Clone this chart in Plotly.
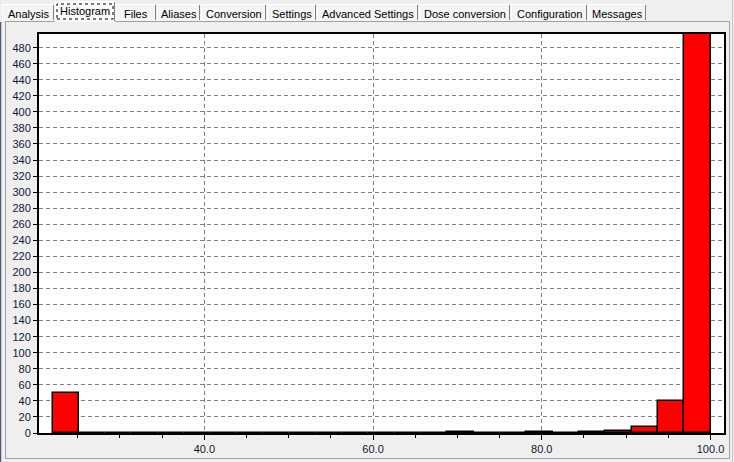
import plotly.graph_objects as go

# ---- data ----
bin_edges = [22.00, 25.12, 28.24, 31.36, 34.48, 37.60, 40.72, 43.84, 46.96, 50.08,
             53.20, 56.32, 59.44, 62.56, 65.68, 68.80, 71.92, 75.04, 78.16, 81.28,
             84.40, 87.52, 90.64, 93.76, 96.88, 100.00]
counts = [50, 0, 0, 0, 0, 0, 0, 0, 0, 0,
          0, 0, 0, 0, 0, 1, 0, 0, 1, 0,
          1, 3, 7, 40, 497]
x_tick_vals = [40, 60, 80, 100]
x_tick_text = ["40.0", "60.0", "80.0", "100.0"]
x_minor_vals = [25, 30, 35, 45, 50, 55, 65, 70, 75, 85, 90, 95]
y_tick_vals = list(range(0, 481, 20))
tab_labels = ["Analysis", "Histogram", "Files", "Aliases", "Conversion", "Settings",
              "Advanced Settings", "Dose conversion", "Configuration", "Messages"]
selected_tab = "Histogram"

# ---- layout geometry (pixels) ----
W, H = 734, 462
L, R, T, B = 39, 724, 34, 433
tab_x = [(2, 54), (55, 115), (116, 156), (157, 200), (201, 266), (267, 316),
         (317, 418), (419, 510), (511, 587), (588, 646)]

def px(x):
    return (x - L) / (R - L)

def py(y):
    return (B - y) / (B - T)

centers = [(a + b) / 2 for a, b in zip(bin_edges[:-1], bin_edges[1:])]
widths = [b - a for a, b in zip(bin_edges[:-1], bin_edges[1:])]

fig = go.Figure()
fig.add_trace(go.Bar(
    x=centers, y=counts, width=widths,
    marker=dict(color="#ff0000", line=dict(color="#000000", width=1.5)),
    hoverinfo="skip",
))

shapes = []
annotations = []
font_ui = "Liberation Sans, Arial, sans-serif"

# outer dark left strip
shapes.append(dict(type="line", xref="paper", yref="paper",
                   x0=px(0.5), x1=px(0.5), y0=py(22), y1=py(462),
                   line=dict(color="#4a5a70", width=1.5), layer="below"))
# tab panel border
shapes.append(dict(type="rect", xref="paper", yref="paper",
                   x0=px(5.5), x1=px(729.5), y0=py(21.5), y1=py(458.5),
                   line=dict(color="#a0a0a0", width=1), fillcolor="rgba(0,0,0,0)",
                   layer="below"))
shapes.append(dict(type="line", xref="paper", yref="paper",
                   x0=px(732.5), x1=px(732.5), y0=py(0), y1=py(462),
                   line=dict(color="#c8c8c8", width=1), layer="below"))

# tabs
for (x0, x1), lab in zip(tab_x, tab_labels):
    sel = lab == selected_tab
    top = 1 if sel else 4
    bot = 22 if sel else 21
    shapes.append(dict(type="rect", xref="paper", yref="paper",
                       x0=px(x0), x1=px(x1), y0=py(bot), y1=py(top),
                       line=dict(width=0), fillcolor="#f4f4f4" if not sel else "#f8f8f8",
                       layer="below"))
    shapes.append(dict(type="line", xref="paper", yref="paper",
                       x0=px(x0 + 0.5), x1=px(x0 + 0.5), y0=py(bot), y1=py(top),
                       line=dict(color="#ffffff", width=1), layer="below"))
    shapes.append(dict(type="line", xref="paper", yref="paper",
                       x0=px(x0), x1=px(x1), y0=py(top + 0.5), y1=py(top + 0.5),
                       line=dict(color="#ffffff", width=1), layer="below"))
    shapes.append(dict(type="line", xref="paper", yref="paper",
                       x0=px(x1 - 0.5), x1=px(x1 - 0.5), y0=py(bot - 1), y1=py(top + 1),
                       line=dict(color="#808080", width=1), layer="below"))
    annotations.append(dict(xref="paper", yref="paper",
                            x=px((x0 + x1) / 2), y=py(11.5 if sel else 13.5),
                            text=lab, showarrow=False, xanchor="center", yanchor="middle",
                            font=dict(family=font_ui, size=11, color="#000000")))
    if sel:
        shapes.append(dict(type="rect", xref="paper", yref="paper",
                           x0=px(x0 + 2), x1=px(x1 - 2), y0=py(19), y1=py(4),
                           line=dict(color="#000000", width=1, dash="dot"),
                           fillcolor="rgba(0,0,0,0)", layer="above"))

fig.update_layout(
    width=W, height=H,
    autosize=False,
    margin=dict(l=L, r=W - R, t=T, b=H - B, pad=0, autoexpand=False),
    paper_bgcolor="#efefef",
    plot_bgcolor="#ffffff",
    showlegend=False,
    bargap=0,
    shapes=shapes,
    annotations=annotations,
    font=dict(family=font_ui, size=11, color="#000000"),
)
fig.update_xaxes(
    automargin=False,
    range=[20.4, 101.6],
    tickmode="array", tickvals=x_tick_vals, ticktext=x_tick_text,
    ticks="outside", ticklen=5, tickcolor="#000000", tickwidth=1,
    showgrid=True, gridcolor="#808080", griddash="4px,3px", gridwidth=1,
    showline=True, linecolor="#000000", linewidth=2, mirror=True,
    zeroline=False,
    minor=dict(tickvals=x_minor_vals,
               ticks="outside", ticklen=3, tickcolor="#000000", showgrid=False),
    tickfont=dict(family=font_ui, size=11, color="#101830"),
)
fig.update_yaxes(
    automargin=False,
    range=[0, 497],
    tickmode="array", tickvals=y_tick_vals,
    ticks="outside", ticklen=4, tickcolor="#000000", tickwidth=1,
    showgrid=True, gridcolor="#808080", griddash="4px,3px", gridwidth=1,
    showline=True, linecolor="#000000", linewidth=2, mirror=True,
    zeroline=False,
    tickfont=dict(family=font_ui, size=11, color="#101830"),
)

fig.write_html("out.html")
